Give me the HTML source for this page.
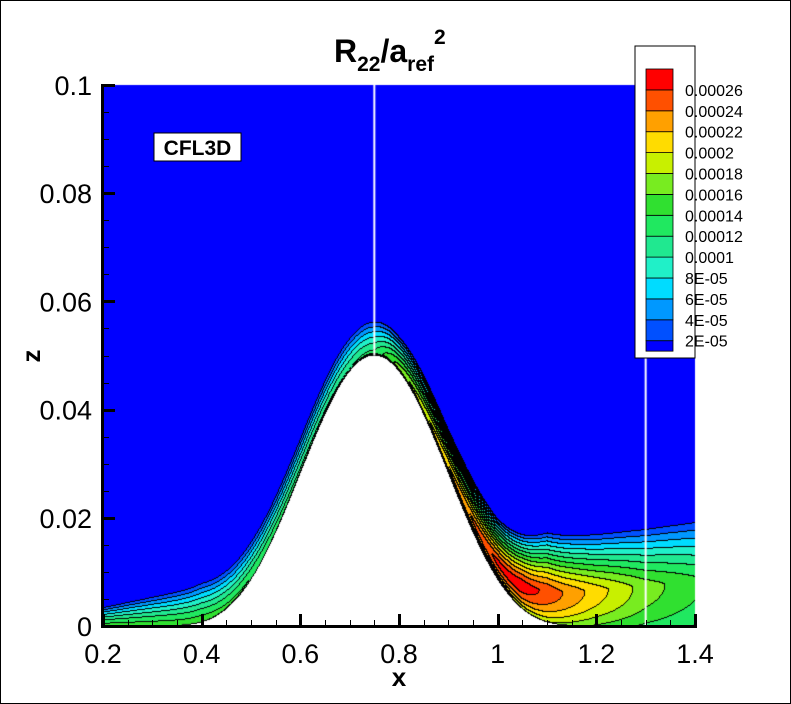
<!DOCTYPE html>
<html><head><meta charset="utf-8"><style>
html,body{margin:0;padding:0;background:#fff;}
#wrap{position:relative;width:791px;height:704px;overflow:hidden;font-family:"Liberation Sans",sans-serif;}
#frame{position:absolute;left:0;top:0;width:789px;height:702px;border:1px solid #000;}
canvas{position:absolute;left:0;top:0;z-index:1;}
svg{position:absolute;left:0;top:0;z-index:2;}
#axes{position:absolute;left:0;top:0;width:791px;height:704px;z-index:3;}
#axes div{position:absolute;background:#000;}
</style></head><body>
<div id="wrap">
<div id="frame"></div>
<canvas id="cv" width="791" height="704"></canvas>
<svg id="sv" width="791" height="704"></svg>
<div id="axes"></div>
</div>
<script>
// ---- data ----
const levels=[0.00002,0.00004,0.00006,0.00008,0.0001,0.00012,0.00014,0.00016,0.00018,0.0002,0.00022,0.00024,0.00026];
const levelLabels=["2E-05","4E-05","6E-05","8E-05","0.0001","0.00012","0.00014","0.00016","0.00018","0.0002","0.00022","0.00024","0.00026"];
const bandColors=["#0000ff","#0050ff","#0098ff","#00dcff","#20f0c8","#20e890","#20e860","#30e030","#78ec20","#c8f000","#ffdc00","#ffa000","#ff5000","#ff0000"];
const stationX=[0.2,0.4,0.5,0.6,0.7,0.75,0.8,0.9,1.0,1.05,1.1,1.2,1.3,1.4];
const peakValue=[0.000145,0.00015,0.00014,0.000125,0.00012,0.000125,0.00017,0.00022,0.000265,0.000272,0.000255,0.00021,0.00017,0.000145];
const blThick=[0.0035,0.0075,0.0072,0.0066,0.0064,0.0065,0.0067,0.0085,0.0115,0.014,0.0168,0.0172,0.0183,0.0197];
const peakPos=[0.05,0.05,0.06,0.06,0.06,0.07,0.1,0.2,0.3,0.33,0.35,0.38,0.4,0.42];
const wallRatio=[0.95,0.95,0.9,0.8,0.7,0.6,0.5,0.55,0.6,0.65,0.7,0.75,0.8,0.82];
const xTicks=[0.2,0.4,0.6,0.8,1,1.2,1.4];
const xTickLabels=["0.2","0.4","0.6","0.8","1","1.2","1.4"];
const yTicks=[0,0.02,0.04,0.06,0.08,0.1];
const yTickLabels=["0","0.02","0.04","0.06","0.08","0.1"];
const cutX=[0.75,1.3];

// ---- axes ----
const X0=103,X1=695,Y0=626,Y1=85;
const sx=x=>X0+(x-0.2)/1.2*(X1-X0);
const sy=z=>Y0-z/0.1*(Y0-Y1);
const ix=px=>0.2+(px-X0)/(X1-X0)*1.2;
const iz=py=>(Y0-py)/(Y0-Y1)*0.1;
function interp(xs,ys,x){if(x<=xs[0])return ys[0];for(let i=1;i<xs.length;i++){if(x<=xs[i]){const t=(x-xs[i-1])/(xs[i]-xs[i-1]);return ys[i-1]+t*(ys[i]-ys[i-1]);}}return ys[ys.length-1];}
function hill(x){if(x<0.3||x>1.2)return 0;const s=Math.sin(Math.PI*x/0.9-Math.PI/3);return 0.05*s*s*s*s;}
function field(x,z){const h=hill(x);const d=z-h;if(d<0)return null;
  const A=interp(stationX,peakValue,x),del=interp(stationX,blThick,x),p=interp(stationX,peakPos,x),wr=interp(stationX,wallRatio,x);
  const s=d/del;
  if(s>=p){const t=(s-p)/(1-p);if(t>=1)return levels[0]*0.5;
    return levels[0]*0.5+(A-levels[0]*0.5)*(1-Math.pow(t,1.25));}
  const t=(p-s)/p;return A*(1-(1-wr)*t*t);}
function band(v){let b=0;while(b<levels.length&&v>=levels[b])b++;return b;}

const cv=document.getElementById('cv');const ctx=cv.getContext('2d');
const W=X1-X0,H=Y0-Y1;const img=ctx.createImageData(W,H);
const rgb=bandColors.map(c=>[parseInt(c.substr(1,2),16),parseInt(c.substr(3,2),16),parseInt(c.substr(5,2),16)]);
const bands=new Int16Array(W*H);
for(let j=0;j<H;j++)for(let i=0;i<W;i++){const v=field(ix(X0+i+0.5),iz(Y1+j+0.5));bands[j*W+i]=v===null?-1:band(v);}
for(let j=0;j<H;j++)for(let i=0;i<W;i++){const k=j*W+i,b=bands[k];let c;
  if(b<0)c=[255,255,255];else{
    const r=i+1<W?bands[k+1]:b,dn=j+1<H?bands[k+W]:b;
    if(r!==b||dn!==b)c=[0,0,0];else c=rgb[b];}
  img.data[k*4]=c[0];img.data[k*4+1]=c[1];img.data[k*4+2]=c[2];img.data[k*4+3]=255;}
ctx.putImageData(img,X0,Y1);
ctx.strokeStyle='#fff';ctx.lineWidth=2;
ctx.beginPath();ctx.moveTo(sx(cutX[0]),Y1);ctx.lineTo(sx(cutX[0]),sy(hill(cutX[0])));ctx.stroke();
ctx.beginPath();ctx.moveTo(sx(cutX[1]),Y1);ctx.lineTo(sx(cutX[1]),Y0);ctx.stroke();

// axes as divs
const ax=document.getElementById('axes');
function bar(l,t,w,h,name){const d=document.createElement('div');d.style.left=l+'px';d.style.top=t+'px';d.style.width=w+'px';d.style.height=h+'px';
  
  
  ax.appendChild(d);}
bar(X0-2,Y1-1,3,Y0-Y1+2,'y-axis-line');
bar(X0-2,Y0-1,X1-X0+4,3,'x-axis-line');
for(let k=0;k<=24;k++){const x=0.2+k*0.05;const major=k%4===0;
  bar(Math.round(sx(x))-(major?1:0),Y0-(major?12:6),major?3:1,major?12:6,'x-tick');}
for(let k=0;k<=20;k++){const z=k*0.005;const major=k%4===0;
  bar(X0,Math.round(sy(z))-(major?1:0),major?12:6,major?3:1,'y-tick');}

// ---- overlay ----
const NS="http://www.w3.org/2000/svg";const sv=document.getElementById('sv');
function el(t,a,txt){const e=document.createElementNS(NS,t);for(const k in a)e.setAttribute(k,a[k]);if(txt!==undefined)e.textContent=txt;sv.appendChild(e);return e;}
let e;
xTicks.forEach((x,i)=>{e=el('text',{x:sx(x),y:663,'font-size':27,'text-anchor':'middle'},xTickLabels[i]);
  });
yTicks.forEach((z,i)=>{e=el('text',{x:92,y:sy(z)+10,'font-size':27,'text-anchor':'end'},yTickLabels[i]);
  });
e=el('text',{x:399,y:686,'font-size':26,'font-weight':'bold','text-anchor':'middle'},'x');

e=el('text',{x:40,y:356,'font-size':26,'font-weight':'bold','text-anchor':'middle',transform:'rotate(-90 40 356)'},'z');

e=el('text',{x:334,y:62,'font-size':32,'font-weight':'bold'});

e.innerHTML='R<tspan font-size="21" dy="9">22</tspan><tspan dy="-9">/a</tspan><tspan font-size="21" dy="9">ref</tspan><tspan font-size="21" dy="-27">2</tspan>';
e=el('rect',{x:154,y:133,width:87,height:28,fill:'#fff',stroke:'#000','stroke-width':1});

e=el('text',{x:197.5,y:155,'font-size':21,'font-weight':'bold','text-anchor':'middle'},'CFL3D');

e=el('rect',{x:635,y:46,width:60,height:312,fill:'#fff',stroke:'#000','stroke-width':1});

const step=20.9,lgTop=69,lgBot=lgTop+step*13.5;
for(let b=0;b<bandColors.length;b++){
  const top=b===bandColors.length-1?lgTop:lgBot-step*0.5-step*b;
  const bot=b===0?lgBot:lgBot-step*0.5-step*(b-1);
  e=el('rect',{x:646,y:top,width:27,height:bot-top,fill:bandColors[b],stroke:'#000','stroke-width':0.8});
  }
levels.forEach((l,i)=>{const yb=lgBot-step*0.5-step*i;
  e=el('text',{x:685,y:yb+6,'font-size':16},levelLabels[i]);
  });
</script>
</body></html>
